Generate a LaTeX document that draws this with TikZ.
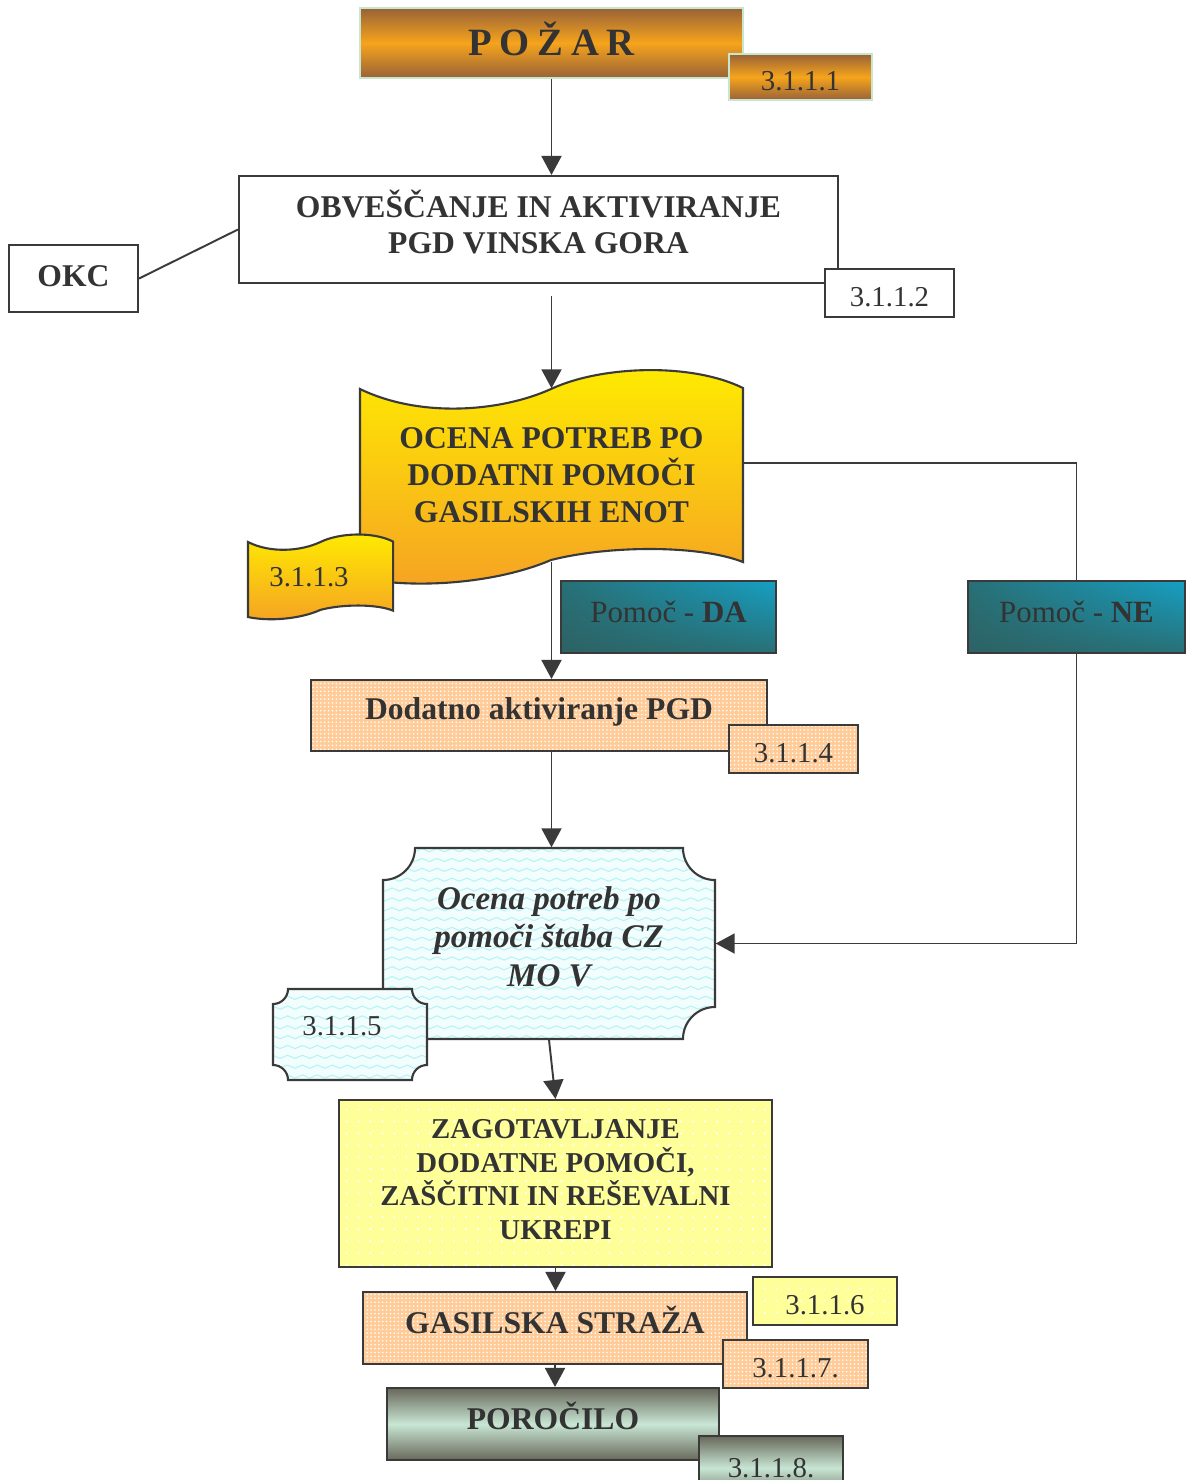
\documentclass[tikz,border=0pt]{standalone}
\usepackage{fontspec}
\setmainfont{Liberation Serif}
\usetikzlibrary{arrows.meta,calc,patterns.meta,shadings}

\definecolor{txt}{HTML}{333333}
\definecolor{linegray}{HTML}{3A3A3A}
\definecolor{salmon}{HTML}{FFCC99}
\definecolor{paleyellow}{HTML}{FFFF99}
\definecolor{brassdark}{RGB}{152,98,56}
\definecolor{brassmid}{RGB}{246,164,28}
\definecolor{paleborder}{RGB}{200,230,205}
\definecolor{flagtop}{RGB}{255,236,0}
\definecolor{flagbot}{RGB}{245,162,36}
\definecolor{tealdark}{RGB}{45,98,100}
\definecolor{tealmid}{RGB}{40,112,118}
\definecolor{teallight}{RGB}{22,160,196}
\definecolor{olivedark}{RGB}{104,104,90}
\definecolor{mint}{RGB}{200,230,212}
\definecolor{cyanbg}{RGB}{242,253,253}
\definecolor{cyanwave}{RGB}{182,243,246}

\tikzdeclarepattern{
	name=cyanwaves,
	type=uncolored,
	bounding box={(-0.3pt,-0.8pt) and (4.55pt,0.8pt)},
	tile size={(4.25pt,2.8pt)},
	code={\draw[line width=0.3pt] (0pt,0pt) sin (1.0625pt,0.45pt) cos (2.125pt,0pt)
	      sin (3.1875pt,-0.45pt) cos (4.25pt,0pt);}
}

% wavy banner, 38.3 x 18.9 units
\newcommand\flagpath{(0,0) .. controls (6,2.9) and (14,2.3) .. (19.1,0)
	.. controls (24,-2.3) and (33,-2.7) .. (38.3,-0.1) -- (38.3,17.3)
	.. controls (34,15.6) and (25,15.6) .. (19.1,17.1)
	.. controls (14,19.3) and (6,20.1) .. (0,18.9) -- cycle}
% box with hollow corners: x1, y1, x2, y2, radius
\newcommand\plaquepath[5]{(#1+#5,#2) -- (#3-#5,#2) arc[start angle=180,end angle=90,radius=#5]
	-- (#3,#4-#5) arc[start angle=270,end angle=180,radius=#5]
	-- (#1+#5,#4) arc[start angle=0,end angle=-90,radius=#5]
	-- (#1,#2+#5) arc[start angle=90,end angle=0,radius=#5] -- cycle}

\begin{document}
\begin{tikzpicture}[x=1mm,y=-1mm,
	box/.style = {draw=linegray, line width=.6pt, inner sep=0pt, align=center, text=txt,
	              font=\fontsize{9}{10.3}\selectfont\bfseries},
	num/.style = {box, font=\fontsize{8.2}{9}\selectfont, text height=7.8pt},
	wh/.style 2 args = {minimum width=#1mm, minimum height=#2mm},
	up/.style = {text depth=#1mm},
	brass/.style = {draw=paleborder, line width=.7pt, top color=brassdark,
	                bottom color=brassdark, middle color=brassmid},
	teal/.style = {upper left=tealmid, upper right=teallight,
	               lower left=tealdark, lower right=tealmid},
	peach/.style = {preaction={fill=salmon}, pattern={Dots[distance=1.1pt,radius=.25pt]},
	                pattern color=white},
	lemon/.style = {preaction={fill=paleyellow}, pattern={Dots[distance=3.4pt,radius=.35pt]},
	                pattern color=white},
	olive/.style = {top color=olivedark, bottom color=olivedark, middle color=mint},
	flag/.style = {draw=linegray, line width=.6pt, top color=flagtop, bottom color=flagbot},
	plaque/.style = {draw=linegray, line width=.6pt, preaction={fill=cyanbg},
	                 pattern=cyanwaves, pattern color=cyanwave},
	label/.style = {inner sep=0pt, align=center, text=txt},
	arr/.style = {draw=linegray, line width=.55pt, -{Triangle[width=2mm,length=1.9mm]}}
	]
\useasboundingbox (0,0) rectangle (118.6,148);

% top
\node[box, brass, wh={38.3}{7}, up=0.9, font=\fontsize{11}{13}\selectfont\bfseries] (pozar) at (55.15,4.3)
	{P\hspace{.2em}O\hspace{.2em}Ž\hspace{.2em}A\hspace{.2em}R};
\node[num, brass, wh={14.3}{4.6}] (n1) at (80.05,7.7) {3.1.1.1};

\node[box, fill=white, wh={59.9}{10.7}, up=1.6] (obv) at (53.85,22.95)
	{OBVEŠČANJE IN AKTIVIRANJE\\PGD VINSKA GORA};
\node[num, fill=white, wh={12.9}{4.8}] (n2) at (88.95,29.3) {3.1.1.2};
\node[box, fill=white, wh={12.9}{6.7}, up=0.4] (okc) at (7.35,27.85) {OKC};

% banners
\shade[flag, shift={(36,38.9)}] \flagpath;
\node[label, wh={38.3}{17.2}, font=\fontsize{9}{10.5}\selectfont\bfseries] (ocena) at (55.15,47.5)
	{OCENA POTREB PO\\DODATNI POMOČI\\GASILSKIH ENOT};
\shade[flag, shift={(24.8,54.2)}, xscale=0.379, yscale=0.397] \flagpath;
\node[label, font=\fontsize{8.2}{9}\selectfont] (n3) at (30.9,57.7) {3.1.1.3};

\node[box, teal, wh={21.5}{7.2}, up=1, font=\fontsize{8.8}{10}\selectfont] (da) at (66.85,61.7)
	{Pomoč - \textbf{DA}};
\node[box, teal, wh={21.7}{7.2}, up=1, font=\fontsize{8.8}{10}\selectfont] (ne) at (107.65,61.7)
	{Pomoč - \textbf{NE}};

\node[box, peach, wh={45.6}{7.1}, up=1.3] (dod) at (53.9,71.55) {Dodatno aktiviranje PGD};
\node[num, peach, wh={12.9}{4.8}] (n4) at (79.35,74.9) {3.1.1.4};

% civil protection
\path[plaque] \plaquepath{38.3}{84.8}{71.5}{103.9}{3.2};
\node[label, wh={33.2}{19.1}, up=1.4, font=\fontsize{9.4}{11}\selectfont\bfseries\itshape] (cz) at (54.9,94.35)
	{Ocena potreb po\\pomoči štaba CZ\\MO V};
\path[plaque] \plaquepath{27.3}{98.9}{42.7}{108}{1.5};
\node[label, font=\fontsize{8.2}{9}\selectfont] (n5) at (34.2,102.6) {3.1.1.5};

% bottom
\node[box, lemon, wh={43.3}{16.7}, up=0.8, font=\fontsize{8.2}{9.6}\selectfont\bfseries] (zag) at (55.55,118.35)
	{ZAGOTAVLJANJE\\DODATNE POMOČI,\\ZAŠČITNI IN REŠEVALNI\\UKREPI};
\node[box, peach, wh={38.4}{7.2}, up=1.6] (gas) at (55.5,132.8) {GASILSKA STRAŽA};
\node[num, lemon, wh={14.4}{4.8}] (n6) at (82.5,130.1) {3.1.1.6};
\node[num, peach, wh={14.5}{4.8}] (n7) at (79.55,136.4) {3.1.1.7.};
\node[box, olive, wh={33.2}{7.2}, up=1.6] (por) at (55.3,142.4) {POROČILO};
\node[box, olive, wh={14.4}{6.4}, font=\fontsize{8.2}{9}\selectfont] (n8) at (77.1,146.8) {3.1.1.8.};

% connectors
\draw[arr] (pozar.south) -- (pozar.south |- obv.north);
\draw[linegray, line width=.55pt] (okc.east) -- (obv.west);
\draw[arr, shorten <=1.2mm] (ocena.north |- obv.south) -- (ocena.north);
\draw[arr] (ocena.south) -- (ocena.south |- dod.north);
\draw[linegray, line width=.55pt] ([yshift=1.2mm]ocena.east) -| (ne.north);
\draw[arr] (ocena.south |- dod.south) -- (ocena.south |- cz.north);
\draw[arr] (ne.south) |- (cz.east);
\draw[arr] (cz.south) -- (zag.north);
\draw[arr] (zag.south) -- (zag.south |- gas.north);
\draw[arr] (gas.south) -- (gas.south |- por.north);
\end{tikzpicture}
\end{document}
